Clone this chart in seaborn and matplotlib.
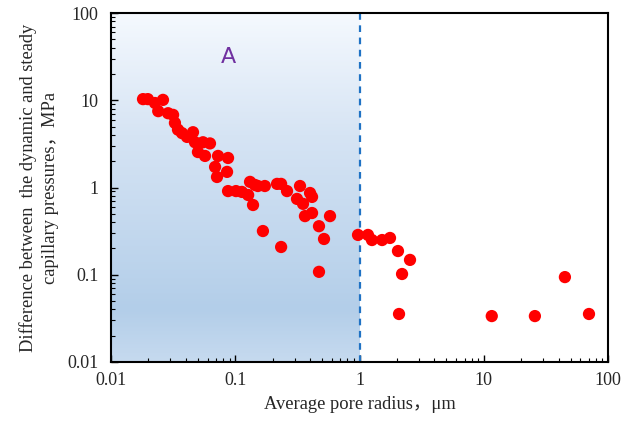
import numpy as np
import matplotlib
matplotlib.use("Agg")
import matplotlib.pyplot as plt
from matplotlib.colors import LinearSegmentedColormap
from matplotlib.ticker import LogLocator, FixedLocator, FixedFormatter, NullFormatter
import seaborn as sns

# Data
pore_radius = [0.0181, 0.0198, 0.0226, 0.0262, 0.0240, 0.0288, 0.0316, 0.0327, 0.0346,
               0.0373, 0.0409, 0.0457, 0.0474, 0.0550, 0.0626, 0.0501, 0.0571, 0.0727,
               0.0875, 0.0688, 0.0859, 0.0713, 0.1315, 0.144, 0.0875, 0.1014, 0.113,
               0.127, 0.139, 0.152, 0.173, 0.217, 0.234, 0.261, 0.332, 0.40, 0.415,
               0.314, 0.351, 0.415, 0.364, 0.579, 0.472, 0.518, 0.167, 0.234, 0.472,
               0.973, 1.17, 1.26, 1.52, 1.76, 2.04, 2.55, 2.2, 2.08, 11.6, 25.8, 45.0, 70.3]
pressure_diff = [10.3, 10.3, 9.3, 10.1, 7.5, 7.1, 6.8, 5.5, 4.6,
                 4.2, 3.8, 4.3, 3.3, 3.3, 3.2, 2.55, 2.30, 2.30,
                 2.18, 1.72, 1.51, 1.32, 1.16, 1.07, 0.91, 0.91, 0.89,
                 0.82, 0.63, 1.04, 1.04, 1.10, 1.10, 0.91, 1.04, 0.865, 0.78,
                 0.74, 0.65, 0.51, 0.47, 0.47, 0.36, 0.257, 0.317, 0.208, 0.108,
                 0.286, 0.286, 0.25, 0.25, 0.264, 0.187, 0.148, 0.102, 0.0355, 0.0336, 0.0336, 0.094, 0.0355]

tick_values = [0.01, 0.1, 1, 10, 100]
tick_labels = ["0.01", "0.1", "1", "10", "100"]
region_label = "A"
xlabel = "Average pore radius，μm"
ylabel = "Difference between  the dynamic and steady\ncapillary pressures，MPa"

sns.set_theme(style="white")
plt.rcParams['font.family'] = ['Liberation Serif', 'Noto Sans CJK SC', 'DejaVu Sans']

fig = plt.figure(figsize=(6.34, 4.24), dpi=100)
ax = fig.add_axes([111/634, 1-362/424, 497/634, 349/424])
ax.set_xscale('log')
ax.set_yscale('log')

# gradient shaded region from x=0.01 to 1 (left half of log axis)
cmap = LinearSegmentedColormap.from_list(
    "g", [(0.0, "#f5f9fe"), (0.35, "#d6e4f4"), (0.85, "#b3cee9"), (1.0, "#c6daef")])
grad = np.linspace(0, 1, 256).reshape(-1, 1)
ax.imshow(grad, cmap=cmap, extent=(0, 0.5, 0, 1), transform=ax.transAxes,
          aspect='auto', origin='upper', zorder=0, interpolation='bilinear')

ax.axvline(1, color="#1f72c4", lw=1.6, ls=(0, (3, 2.5)), zorder=1)

sns.scatterplot(x=pore_radius, y=pressure_diff, ax=ax, color="#ff0000",
                s=78, edgecolor="none", linewidth=0, zorder=3, legend=False)

ax.text(0.0875, 31, region_label, color="#7030a0", fontsize=16,
        family=['DejaVu Sans'], ha='center', va='center')

ax.set_xlim(0.01, 100)
ax.set_ylim(0.01, 100)

for axis in (ax.xaxis, ax.yaxis):
    axis.set_major_locator(FixedLocator(tick_values))
    axis.set_major_formatter(FixedFormatter(tick_labels))
    axis.set_minor_locator(LogLocator(base=10, subs=np.arange(2, 10), numticks=20))
    axis.set_minor_formatter(NullFormatter())

ax.tick_params(which='major', direction='in', length=5, width=1, color='black',
               labelsize=13, bottom=True, left=True, top=False, right=False)
ax.tick_params(which='minor', direction='in', length=3, width=0.8, color='black',
               bottom=True, left=True, top=False, right=False)
ax.tick_params(axis='x', pad=7)
ax.tick_params(axis='y', pad=9)

for sp in ax.spines.values():
    sp.set_color('black')
    sp.set_linewidth(1.5)
    sp.set_visible(True)

ax.set_xlabel(xlabel, fontsize=13.3, labelpad=5)
ax.set_ylabel(ylabel, fontsize=13.3, labelpad=6, linespacing=1.35)

fig.savefig("out.png", dpi=100)
